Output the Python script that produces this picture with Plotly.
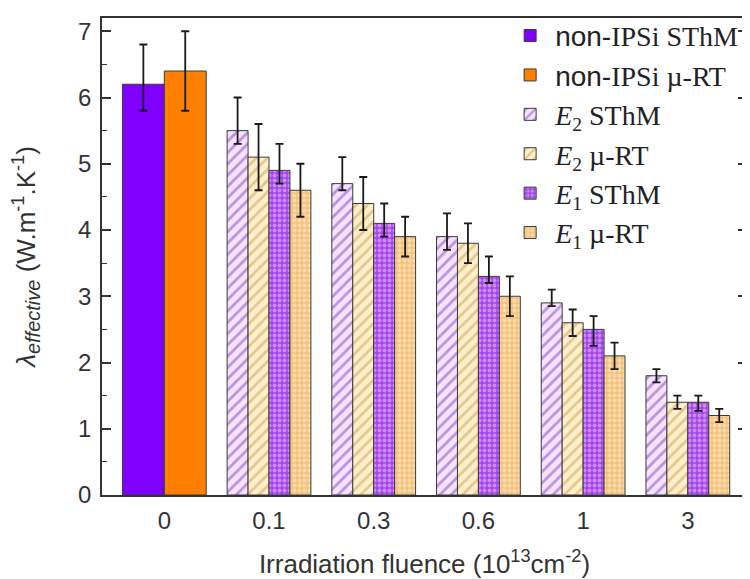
import plotly.graph_objects as go

# ---------------- data ----------------
categories = ["0", "0.1", "0.3", "0.6", "1", "3"]
irr_categories = ["0.1", "0.3", "0.6", "1", "3"]

non_sthm_val = [6.2]
non_sthm_up = [0.6]
non_sthm_dn = [0.4]

non_rt_val = [6.4]
non_rt_up = [0.6]
non_rt_dn = [0.6]

e2_sthm_val = [5.5, 4.7, 3.9, 2.9, 1.8]
e2_sthm_up = [0.5, 0.4, 0.35, 0.2, 0.1]
e2_sthm_dn = [0.2, 0.1, 0.2, 0.05, 0.1]

e2_rt_val = [5.1, 4.4, 3.8, 2.6, 1.4]
e2_rt_up = [0.5, 0.4, 0.3, 0.2, 0.1]
e2_rt_dn = [0.5, 0.4, 0.3, 0.2, 0.1]

e1_sthm_val = [4.9, 4.1, 3.3, 2.5, 1.4]
e1_sthm_up = [0.4, 0.3, 0.3, 0.2, 0.1]
e1_sthm_dn = [0.2, 0.2, 0.1, 0.25, 0.13]

e1_rt_val = [4.6, 3.9, 3.0, 2.1, 1.2]
e1_rt_up = [0.4, 0.3, 0.3, 0.2, 0.1]
e1_rt_dn = [0.4, 0.3, 0.3, 0.2, 0.1]

SANS = "Liberation Sans, Arial, sans-serif"
SERIF = "Liberation Serif, Times New Roman, serif"

names = [
    "<span style='font-family:Liberation Sans'>non-</span>IPSi SThM",
    "<span style='font-family:Liberation Sans'>non-</span>IPSi \u00b5-RT",
    "<i>E</i><sub>2</sub> SThM",
    "<i>E</i><sub>2</sub> \u00b5-RT",
    "<i>E</i><sub>1</sub> SThM",
    "<i>E</i><sub>1</sub> \u00b5-RT",
]

ERR_COLOR = "#1a1a1a"
OUTLINE = "#3a3a3a"


def err(up, dn):
    return dict(type="data", symmetric=False, array=up, arrayminus=dn,
                color=ERR_COLOR, thickness=1.8, width=4)


fig = go.Figure()

fig.add_bar(x=["0"], y=non_sthm_val, name=names[0], offset=-0.4, width=0.4,
            marker=dict(color="#7f00ff", line=dict(color=OUTLINE, width=1)),
            error_y=err(non_sthm_up, non_sthm_dn), legendgroup="a")
fig.add_bar(x=["0"], y=non_rt_val, name=names[1], offset=0.0, width=0.4,
            marker=dict(color="#ff8000", line=dict(color=OUTLINE, width=1)),
            error_y=err(non_rt_up, non_rt_dn), legendgroup="b")

fig.add_bar(x=irr_categories, y=e2_sthm_val, name=names[2], offset=-0.4, width=0.2,
            marker=dict(color="#f7e3ff", line=dict(color=OUTLINE, width=1),
                        pattern=dict(shape="/", fgcolor="#7d44c0", bgcolor="#f7e3ff",
                                     size=8, solidity=0.35)),
            error_y=err(e2_sthm_up, e2_sthm_dn), legendgroup="c")
fig.add_bar(x=irr_categories, y=e2_rt_val, name=names[3], offset=-0.2, width=0.2,
            marker=dict(color="#fff0cc", line=dict(color=OUTLINE, width=1),
                        pattern=dict(shape="/", fgcolor="#cf9a4c", bgcolor="#fff0cc",
                                     size=8, solidity=0.35)),
            error_y=err(e2_rt_up, e2_rt_dn), legendgroup="d")
fig.add_bar(x=irr_categories, y=e1_sthm_val, name=names[4], offset=0.0, width=0.2,
            marker=dict(color="#b45af0", line=dict(color=OUTLINE, width=1),
                        pattern=dict(shape=".", fgcolor="#f2d4ff", bgcolor="#a545ee",
                                     size=5, solidity=0.45)),
            error_y=err(e1_sthm_up, e1_sthm_dn), legendgroup="e")
fig.add_bar(x=irr_categories, y=e1_rt_val, name=names[5], offset=0.2, width=0.2,
            marker=dict(color="#ffdca8", line=dict(color=OUTLINE, width=1),
                        pattern=dict(shape=".", fgcolor="#fff3de", bgcolor="#f5c27c",
                                     size=5, solidity=0.45)),
            error_y=err(e1_rt_up, e1_rt_dn), legendgroup="f")

fig.update_layout(
    width=742, height=571,
    margin=dict(l=94, r=3, t=10, b=84, autoexpand=False),
    paper_bgcolor="white", plot_bgcolor="white",
    barmode="overlay",
    font=dict(family=SANS, size=24, color="#333333"),
    showlegend=True,
    legend=dict(x=0.625, y=1.015, xanchor="left", yanchor="top",
                bgcolor="rgba(255,255,255,0)", borderwidth=0,
                font=dict(family=SERIF, size=28, color="#222222"),
                tracegroupgap=11, itemwidth=40, traceorder="normal"),
    xaxis=dict(
        type="category", categoryorder="array", categoryarray=categories,
        range=[-0.595, 5.565], showline=True, linecolor="#333333", linewidth=1.5,
        mirror=True, ticks="", showgrid=False, zeroline=False, automargin=False,
        tickfont=dict(family=SANS, size=24, color="#333333"),
        ticklabelstandoff=3,
        title=dict(text="Irradiation fluence (10<sup>13</sup>cm<sup>-2</sup>)",
                   font=dict(family=SANS, size=26, color="#333333"), standoff=22),
    ),
    yaxis=dict(
        range=[0, 7.2], dtick=1, tick0=0, showline=True, linecolor="#333333",
        linewidth=1.5, mirror="ticks", ticks="inside", ticklen=9, tickwidth=1.5,
        tickcolor="#333333", showgrid=False, zeroline=False, automargin=False,
        minor=dict(ticks="inside", dtick=0.5, ticklen=5, tickwidth=1.2, tickcolor="#333333"),
        tickfont=dict(family=SANS, size=24, color="#333333"),
        ticklabelstandoff=4,
        title=dict(text="<i>\u03bb</i><sub><i><span style='font-size:20px'>effective</span></i></sub> (W.m<sup>-1</sup>.K<sup>-1</sup>)",
                   font=dict(family=SANS, size=26, color="#333333"), standoff=56),
    ),
)

fig.write_html("out.html")
